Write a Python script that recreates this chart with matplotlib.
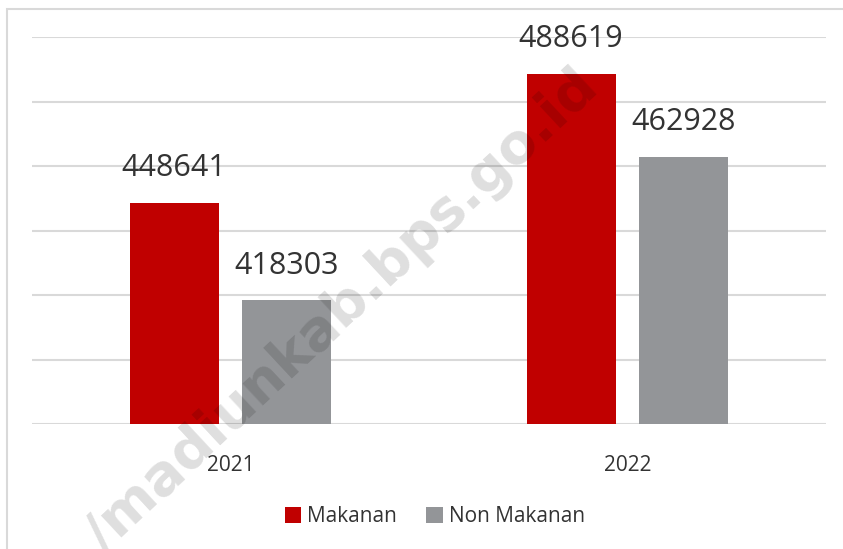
# Pengeluaran per kapita: Makanan vs Non Makanan, 2021-2022

import matplotlib.pyplot as plt
from matplotlib.patches import Rectangle
import numpy as np

years = ["2021", "2022"]
makanan = [448641, 488619]
non_makanan = [418303, 462928]

red = "#C00000"
gray = "#939598"

fig = plt.figure(figsize=(8.43, 5.49), dpi=100)
fig.patches.append(Rectangle((7 / 843, -0.1), 1.0, 1 - 9 / 549 + 0.1, transform=fig.transFigure,
                             fill=False, edgecolor="#D9D9D9", linewidth=1.5))

ax = fig.add_axes([32 / 843, 1 - 424 / 549, 794 / 843, 387 / 549])
x = np.arange(len(years))
w = 0.224
off = 0.142
b1 = ax.bar(x - off, makanan, w, color=red, label="Makanan", zorder=3)
b2 = ax.bar(x + off, non_makanan, w, color=gray, label="Non Makanan", zorder=3)

ax.set_xlim(-0.5, 1.5)
ax.set_ylim(380000, 500000)
ax.set_yticks(range(380000, 500001, 20000))
ax.yaxis.grid(True, color="#D9D9D9", linewidth=1.5, zorder=0)
ax.tick_params(axis="y", length=0, labelleft=False)
ax.tick_params(axis="x", length=0, pad=22, labelsize=15, labelcolor="#333333")
ax.set_xticks(x)
ax.set_xticklabels(years, family="Open Sans")
for s in ax.spines.values():
    s.set_visible(False)

for bars in (b1, b2):
    for bar in bars:
        ax.annotate(f"{int(bar.get_height())}", (bar.get_x() + bar.get_width() / 2, bar.get_height()),
                    xytext=(0, 14), textcoords="offset points", ha="center", va="bottom",
                    fontsize=22, color="#333333", family="Open Sans")

leg = fig.legend(handles=[b1, b2], loc="center", bbox_to_anchor=(435 / 843, 1 - 517 / 549), ncol=2,
                 frameon=False, handlelength=0.8, handleheight=0.8, handletextpad=0.3,
                 columnspacing=1.4, prop={"family": "Open Sans", "size": 15})
for t in leg.get_texts():
    t.set_color("#333333")

# watermark
fig.text(342 / 843, 1 - 312 / 549, "/madiunkab.bps.go.id", rotation=43, ha="center", va="center",
         fontsize=40, fontweight="bold", color="#000000", alpha=0.13, zorder=10)

plt.savefig("out.png", dpi=100)
plt.close(fig)
